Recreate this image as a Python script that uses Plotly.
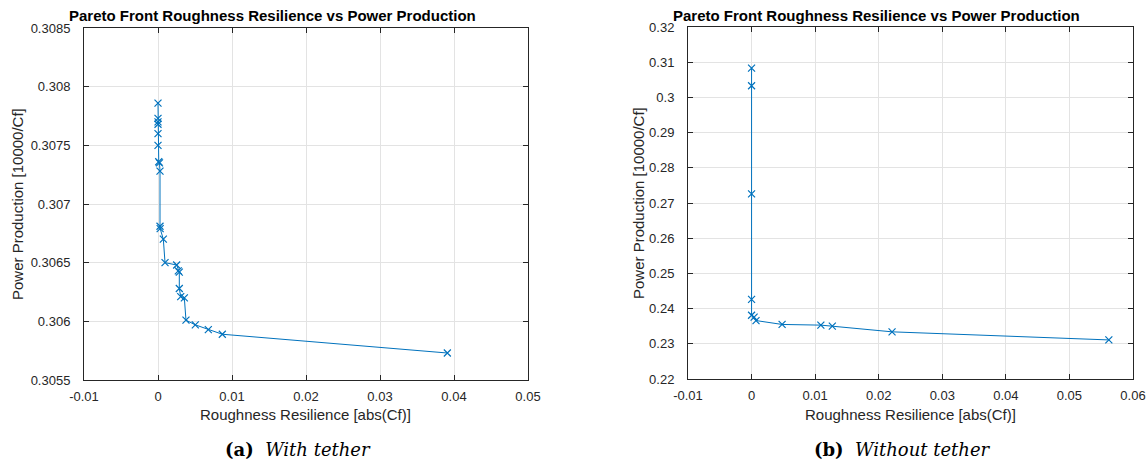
import plotly.graph_objects as go

# ---- data: (a) with tether ----
x_a = [0.0, 0.0, 0.0, 0.0, 0.0, 0.0, 0.0001, 0.0002, 0.00027, 0.00027, 0.00029,
       0.00072, 0.00095, 0.00252, 0.00274, 0.00288, 0.00288, 0.00307, 0.00356,
       0.00378, 0.00504, 0.0068, 0.00869, 0.0391]
y_a = [0.30786, 0.30773, 0.30770, 0.30768, 0.30760, 0.30750, 0.30736, 0.30735,
       0.30728, 0.30681, 0.30679, 0.30670, 0.30650, 0.30648, 0.30643, 0.30642,
       0.30628, 0.30621, 0.30620, 0.30601, 0.30597, 0.30593, 0.30589, 0.30573]

# ---- data: (b) without tether ----
x_b = [0.0, 0.0, 0.0, 0.0, 0.0, 0.0004, 0.0007, 0.0048, 0.0109, 0.0127, 0.0221, 0.0562]
y_b = [0.3083, 0.3033, 0.2726, 0.2426, 0.2381, 0.2376, 0.2366, 0.2355, 0.2353,
       0.2350, 0.2334, 0.2311]

# ---- tick labels ----
xt_a = [-0.01, 0, 0.01, 0.02, 0.03, 0.04, 0.05]
xt_a_txt = ["-0.01", "0", "0.01", "0.02", "0.03", "0.04", "0.05"]
yt_a = [0.3055, 0.306, 0.3065, 0.307, 0.3075, 0.308, 0.3085]
yt_a_txt = ["0.3055", "0.306", "0.3065", "0.307", "0.3075", "0.308", "0.3085"]
xt_b = [-0.01, 0, 0.01, 0.02, 0.03, 0.04, 0.05, 0.06]
xt_b_txt = ["-0.01", "0", "0.01", "0.02", "0.03", "0.04", "0.05", "0.06"]
yt_b = [0.22, 0.23, 0.24, 0.25, 0.26, 0.27, 0.28, 0.29, 0.30, 0.31, 0.32]
yt_b_txt = ["0.22", "0.23", "0.24", "0.25", "0.26", "0.27", "0.28", "0.29", "0.3", "0.31", "0.32"]

title_txt = "Pareto Front Roughness Resilience vs Power Production"
xlab = "Roughness Resilience [abs(Cf)]"
ylab = "Power Production [10000/Cf]"

W, H = 1148, 464
BLUE = "#0072BD"
AX = "#262626"
GRID = "#e3e3e3"
FONT = "Liberation Sans"

fig = go.Figure()
mk = dict(symbol="x-thin", size=7, line=dict(color=BLUE, width=1.2), color=BLUE)
fig.add_trace(go.Scatter(x=x_a, y=y_a, mode="lines+markers", line=dict(color=BLUE, width=1),
                         marker=mk, xaxis="x", yaxis="y", showlegend=False))
fig.add_trace(go.Scatter(x=x_b, y=y_b, mode="lines+markers", line=dict(color=BLUE, width=1),
                         marker=mk, xaxis="x2", yaxis="y2", showlegend=False))

def px(v):
    return v / W

def py(v):
    return 1 - v / H

# plot boxes (pixels)
A = dict(l=84, r=528, t=28, b=380)
B = dict(l=688, r=1133, t=27, b=379)

common = dict(showline=True, linecolor=AX, linewidth=1, mirror="ticks", ticks="inside",
              ticklen=5, tickcolor=AX, tickwidth=1, showgrid=True, gridcolor=GRID, gridwidth=1,
              zeroline=False, tickfont=dict(family=FONT, size=13, color=AX), autorange=False,
              automargin=False)

fig.update_layout(
    width=W, height=H, margin=dict(l=0, r=0, t=0, b=0, autoexpand=False),
    paper_bgcolor="white", plot_bgcolor="white",
    xaxis=dict(domain=[px(A["l"]), px(A["r"])], range=[-0.01, 0.05], tickvals=xt_a, ticktext=xt_a_txt,
               anchor="y", ticklabelstandoff=4, **common),
    yaxis=dict(domain=[py(A["b"]), py(A["t"])], range=[0.3055, 0.3085], tickvals=yt_a, ticktext=yt_a_txt,
               anchor="x", ticklabelstandoff=10, **common),
    xaxis2=dict(domain=[px(B["l"]), px(B["r"])], range=[-0.01, 0.06], tickvals=xt_b, ticktext=xt_b_txt,
                anchor="y2", ticklabelstandoff=4, **common),
    yaxis2=dict(domain=[py(B["b"]), py(B["t"])], range=[0.22, 0.32], tickvals=yt_b, ticktext=yt_b_txt,
                anchor="x2", ticklabelstandoff=10, **common),
)

ann = []
for box, cap_b, cap_i, ylx in [(A, "(a)", "With tether", 17), (B, "(b)", "Without tether", 638)]:
    cx = (box["l"] + box["r"]) / 2
    ann.append(dict(text="<b>" + title_txt + "</b>", x=px(cx - 34), y=py(15), xref="paper", yref="paper",
                    showarrow=False, xanchor="center", yanchor="middle",
                    font=dict(family=FONT, size=15, color="black")))
    ann.append(dict(text=xlab, x=px(cx), y=py(414), xref="paper", yref="paper",
                    showarrow=False, xanchor="center", yanchor="middle",
                    font=dict(family=FONT, size=15, color=AX)))
    ann.append(dict(text=ylab, x=px(ylx), y=py((box["t"] + box["b"]) / 2), xref="paper", yref="paper",
                    showarrow=False, xanchor="center", yanchor="middle", textangle=-90,
                    font=dict(family=FONT, size=15, color=AX)))
    ann.append(dict(text="<b>" + cap_b + "</b>  <i>" + cap_i + "</i>", x=px(cx - 8), y=py(449),
                    xref="paper", yref="paper", showarrow=False, xanchor="center", yanchor="middle",
                    font=dict(family="DejaVu Serif", size=18, color="black")))
fig.update_layout(annotations=ann)

fig.write_html("out.html")
